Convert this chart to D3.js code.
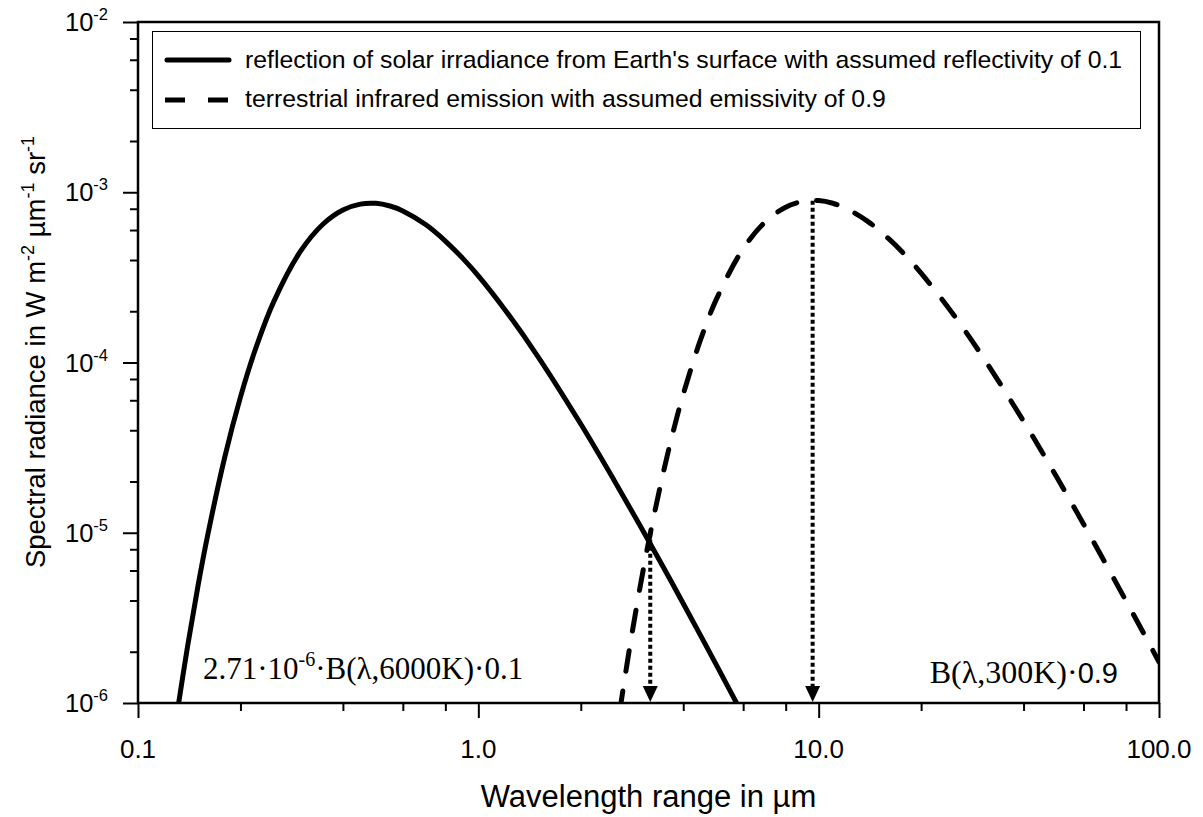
<!DOCTYPE html>
<html>
<head>
<meta charset="utf-8">
<style>
  body { margin: 0; background: #fff; }
  text { font-family: Arial, "Liberation Sans", sans-serif; fill: #000; }
  .serif { font-family: "Times New Roman", "Liberation Serif", serif; }
</style>
</head>
<body>
<svg width="1203" height="817"></svg>
<script src="https://d3js.org/d3.v7.min.js"></script>
<script>
// reflected solar irradiance (Earth's surface, reflectivity 0.1)
const solarWl  = [0.13, 0.14, 0.15, 0.16, 0.18, 0.2, 0.22, 0.25, 0.3, 0.35, 0.4, 0.45, 0.5, 0.55, 0.6, 0.7, 0.8, 0.9, 1.0, 1.2, 1.5, 2, 2.5, 3, 3.5, 4, 5, 6];
const solarVal = [8.48e-7, 2.18e-6, 4.85e-6, 9.53e-6, 2.80e-5, 6.26e-5, 1.156e-4, 2.256e-4, 4.49e-4, 6.51e-4, 7.87e-4, 8.52e-4, 8.61e-4, 8.30e-4, 7.77e-4, 6.46e-4, 5.17e-4, 4.09e-4, 3.23e-4, 2.03e-4, 1.077e-4, 4.35e-5, 2.05e-5, 1.085e-5, 6.25e-6, 3.84e-6, 1.68e-6, 8.45e-7];

// terrestrial infrared emission (emissivity 0.9)
const irWl  = [2.5, 2.6, 2.7, 2.8, 3, 3.2, 3.5, 3.75, 4, 4.5, 5, 6, 7, 8, 9, 10, 11, 12, 14, 16, 18, 20, 25, 30, 40, 50, 60, 70, 80, 90, 100];
const irVal = [5.12e-7, 8.80e-7, 1.44e-6, 2.27e-6, 5.03e-6, 9.90e-6, 2.28e-5, 4.04e-5, 6.50e-5, 1.366e-4, 2.34e-4, 4.66e-4, 6.76e-4, 8.17e-4, 8.85e-4, 8.93e-4, 8.62e-4, 8.06e-4, 6.70e-4, 5.37e-4, 4.25e-4, 3.35e-4, 1.89e-4, 1.118e-4, 4.52e-5, 2.13e-5, 1.126e-5, 6.48e-6, 3.98e-6, 2.58e-6, 1.74e-6];

// dotted arrows (wavelength, starting value)
const arrowWl  = [3.2, 9.6];
const arrowTop = [1.0e-5, 8.9e-4];

const xMajor = [0.1, 1, 10, 100];
const xLabels = ["0.1", "1.0", "10.0", "100.0"];
const yMajor = [1e-6, 1e-5, 1e-4, 1e-3, 1e-2];
const yExp = ["-6", "-5", "-4", "-3", "-2"];
const minorMult = [2, 4, 6, 8];

const svg = d3.select("svg");
const L = 138, T = 22, R = 1159, B = 703;

const x = d3.scaleLog().domain([0.1, 100]).range([L, R]);
const y = d3.scaleLog().domain([1e-6, 1e-2]).range([B, T]);

const xMinor = [], yMinor = [];
xMajor.slice(0, -1).forEach(d => minorMult.forEach(m => xMinor.push(d * m)));
yMajor.slice(0, -1).forEach(d => minorMult.forEach(m => yMinor.push(d * m)));

svg.append("defs").append("clipPath").attr("id", "plot")
  .append("rect").attr("x", L).attr("y", T).attr("width", R - L).attr("height", B - T);

// ticks
svg.append("g").attr("transform", `translate(0,${B})`)
  .call(d3.axisBottom(x).tickValues(xMajor).tickSize(15).tickFormat(""))
  .call(g => g.select(".domain").remove())
  .selectAll("line").attr("stroke-width", 2);
svg.append("g").attr("transform", `translate(0,${B})`)
  .call(d3.axisBottom(x).tickValues(xMinor).tickSize(8).tickFormat(""))
  .call(g => g.select(".domain").remove())
  .selectAll("line").attr("stroke-width", 2);
svg.append("g").attr("transform", `translate(${L},0)`)
  .call(d3.axisLeft(y).tickValues(yMajor).tickSize(15).tickFormat(""))
  .call(g => g.select(".domain").remove())
  .selectAll("line").attr("stroke-width", 2);
svg.append("g").attr("transform", `translate(${L},0)`)
  .call(d3.axisLeft(y).tickValues(yMinor).tickSize(8).tickFormat(""))
  .call(g => g.select(".domain").remove())
  .selectAll("line").attr("stroke-width", 2);

// frame
svg.append("rect").attr("x", L).attr("y", T).attr("width", R - L).attr("height", B - T)
  .attr("fill", "none").attr("stroke", "#000").attr("stroke-width", 2.5);

// tick labels
svg.selectAll(".xl").data(xMajor).enter().append("text")
  .attr("x", d => x(d)).attr("y", 758).attr("text-anchor", "middle")
  .style("font-size", "26px").text((d, i) => xLabels[i]);

const yl = svg.selectAll(".yl").data(yMajor).enter().append("text")
  .attr("x", 108).attr("y", d => y(d) + 9).attr("text-anchor", "end")
  .style("font-size", "25.5px");
yl.append("tspan").text("10");
yl.append("tspan").attr("dy", -11).style("font-size", "16.5px").text((d, i) => yExp[i]);

// axis titles
svg.append("text").attr("x", (L + R) / 2).attr("y", 807).attr("text-anchor", "middle")
  .style("font-size", "31px").text("Wavelength range in µm");

const yt = svg.append("text").attr("transform", "translate(45,352) rotate(-90)")
  .attr("text-anchor", "middle").style("font-size", "27.5px");
yt.append("tspan").text("Spectral radiance in W m");
yt.append("tspan").attr("dy", -11).style("font-size", "18px").text("-2");
yt.append("tspan").attr("dy", 11).text(" µm");
yt.append("tspan").attr("dy", -11).style("font-size", "18px").text("-1");
yt.append("tspan").attr("dy", 11).text(" sr");
yt.append("tspan").attr("dy", -11).style("font-size", "18px").text("-1");

// curves
const line = d3.line().x(d => x(d[0])).y(d => y(d[1])).curve(d3.curveCatmullRom);
const plot = svg.append("g").attr("clip-path", "url(#plot)");
plot.append("path").datum(d3.zip(solarWl, solarVal)).attr("d", line)
  .attr("fill", "none").attr("stroke", "#000").attr("stroke-width", 5);
plot.append("path").datum(d3.zip(irWl, irVal)).attr("d", line)
  .attr("fill", "none").attr("stroke", "#000").attr("stroke-width", 5)
  .attr("stroke-dasharray", "21 20").attr("stroke-linecap", "round");

// dotted arrows
arrowWl.forEach((w, i) => {
  svg.append("line").attr("x1", x(w)).attr("x2", x(w))
    .attr("y1", y(arrowTop[i])).attr("y2", B - 16)
    .attr("stroke", "#000").attr("stroke-width", 4).attr("stroke-dasharray", "4 3");
  svg.append("path")
    .attr("d", `M${x(w) - 7.5},${B - 17} L${x(w) + 7.5},${B - 17} L${x(w)},${B - 1} Z`)
    .attr("fill", "#000");
});

// annotations
const a1 = svg.append("text").attr("class", "serif").attr("x", 203).attr("y", 679).style("font-size", "31px");
a1.append("tspan").text("2.71·10");
a1.append("tspan").attr("dy", -13).style("font-size", "20px").text("-6");
a1.append("tspan").attr("dy", 13).text("·B(λ,6000K)·0.1");

const a2 = svg.append("text").attr("x", 1118).attr("y", 683).attr("text-anchor", "end").style("font-size", "32px");
a2.append("tspan").attr("class", "serif").text("B(λ,300K)·");
a2.append("tspan").style("font-size", "29px").text("0.9");

// legend
const lg = svg.append("g");
lg.append("rect").attr("x", 152.5).attr("y", 31.5).attr("width", 988).attr("height", 97)
  .attr("fill", "#fff").attr("stroke", "#000").attr("stroke-width", 1);
lg.append("line").attr("x1", 167).attr("x2", 229).attr("y1", 60).attr("y2", 60)
  .attr("stroke", "#000").attr("stroke-width", 5).attr("stroke-linecap", "round");
lg.append("line").attr("x1", 165).attr("x2", 229).attr("y1", 100).attr("y2", 100)
  .attr("stroke", "#000").attr("stroke-width", 5).attr("stroke-dasharray", "20 23");
lg.append("text").attr("x", 245).attr("y", 68).style("font-size", "24.8px")
  .text("reflection of solar irradiance from Earth's surface with assumed reflectivity of 0.1");
lg.append("text").attr("x", 245).attr("y", 107).style("font-size", "24.8px")
  .text("terrestrial infrared emission with assumed emissivity of 0.9");
</script>
</body>
</html>
